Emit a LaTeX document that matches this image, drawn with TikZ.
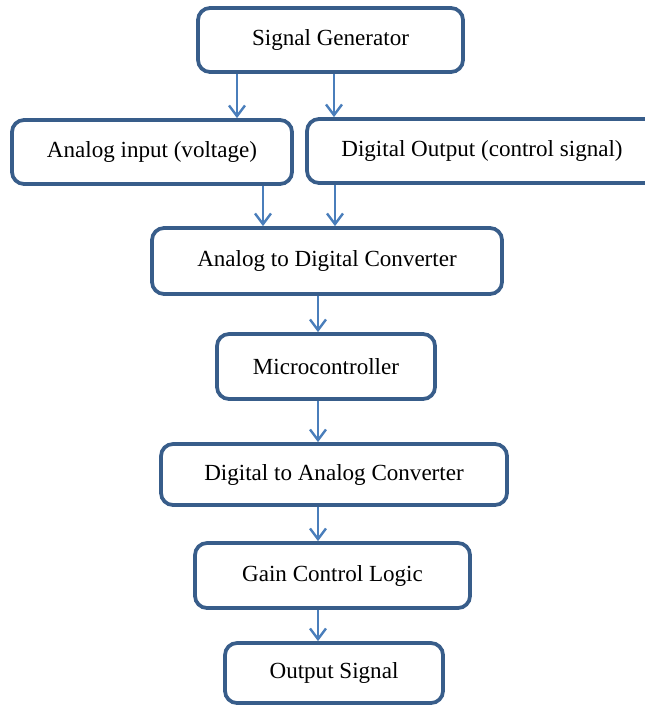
\documentclass[tikz,border=0pt]{standalone}
\usepackage{fontspec}
\setmainfont{Liberation Serif}
\usetikzlibrary{arrows.meta}
\definecolor{boxblue}{HTML}{385D8A}
\definecolor{arrowblue}{HTML}{4A7EBB}
\tikzset{
  blockbox/.style={draw=boxblue, line width=2.8pt, rounded corners=9pt, fill=white,
    inner sep=0pt, align=center, font=\fontsize{17.3}{20}\selectfont},
  flowarrow/.style={draw=arrowblue, line width=1.8pt, -{Straight Barb[length=8pt,width=12pt]}}
}
\begin{document}
\begin{tikzpicture}[x=0.75pt,y=0.75pt,yscale=-1,xscale=1]
        \useasboundingbox (0,0) rectangle (645,706);
        \clip (0,0) rectangle (645,706);

        % Blocks
        \node[blockbox, minimum width=198.75pt, minimum height=48pt] (sg) at (330.5,40) {Signal Generator};
        \node[blockbox, minimum width=210pt, minimum height=48pt] (ai) at (152,152) {Analog input (voltage)};
        \node[blockbox, minimum width=262.5pt, minimum height=48pt] (do) at (482,151) {Digital Output (control signal)};
        \node[blockbox, minimum width=262.5pt, minimum height=49.5pt] (adc) at (327,261) {Analog to Digital Converter};
        \node[blockbox, minimum width=163.5pt, minimum height=48.75pt] (mc) at (326,366.5) {Microcontroller};
        \node[blockbox, minimum width=259.5pt, minimum height=45.75pt] (dac) at (334,474.5) {Digital to Analog Converter};
        \node[blockbox, minimum width=206.25pt, minimum height=48.75pt] (gcl) at (332.5,575.5) {Gain Control Logic};
        \node[blockbox, minimum width=163.5pt, minimum height=45pt] (os) at (334,673) {Output Signal};

        % Arrows
        \draw[flowarrow] (237,0 |- sg.south) -- (237,0 |- ai.north);
        \draw[flowarrow] (334,0 |- sg.south) -- (334,0 |- do.north);
        \draw[flowarrow] (263,0 |- ai.south) -- (263,0 |- adc.north);
        \draw[flowarrow] (335,0 |- do.south) -- (335,0 |- adc.north);
        \draw[flowarrow] (318,0 |- adc.south) -- (318,0 |- mc.north);
        \draw[flowarrow] (318,0 |- mc.south) -- (318,0 |- dac.north);
        \draw[flowarrow] (318,0 |- dac.south) -- (318,0 |- gcl.north);
        \draw[flowarrow] (318,0 |- gcl.south) -- (318,0 |- os.north);
\end{tikzpicture}
\end{document}
